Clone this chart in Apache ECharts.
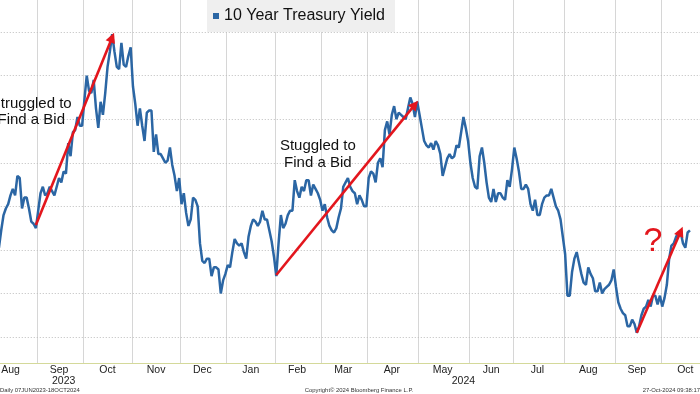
<!DOCTYPE html>
<html><head><meta charset="utf-8">
<script src="https://cdn.jsdelivr.net/npm/echarts@6/dist/echarts.min.js"></script>
<style>html,body{margin:0;padding:0;background:#fff}#c{width:700px;height:394px}</style>
</head><body><div id="c"></div>
<script>
// ---- data (10Y Treasury yield, %, one value per trading day) ----
const seriesName = '10 Year Treasury Yield';
const firstDate = '2023-08-09';
const lastDate = '2024-10-24';
const holidays = ['2023-09-04','2023-10-09','2023-11-23','2023-12-25','2024-01-01','2024-01-15',
  '2024-02-19','2024-03-29','2024-05-27','2024-06-19','2024-07-04','2024-09-02','2024-10-14'];

const y2023Aug = [4.01,4.09,4.16,4.19,4.21,4.25,4.28,4.25,4.34,4.33,4.19,4.24,4.24,4.19,4.13,4.12,4.10];
const y2023Sep = [4.18,4.26,4.29,4.25,4.26,4.29,4.27,4.25,4.29,4.33,4.31,4.36,4.35,4.49,4.43,4.54,4.55,4.61,4.57,4.57];
const y2023Oct = [4.69,4.80,4.73,4.72,4.78,4.65,4.56,4.68,4.62,4.72,4.84,4.91,4.99,4.91,4.84,4.83,4.95,4.85,4.84,4.89,4.93];
const y2023Nov = [4.75,4.67,4.57,4.65,4.57,4.50,4.63,4.64,4.64,4.45,4.53,4.44,4.44,4.42,4.40,4.41,4.47,4.39,4.34,4.27,4.33];
const y2023Dec = [4.21,4.26,4.17,4.11,4.14,4.24,4.23,4.20,4.03,3.95,3.94,3.96,3.96,3.88,3.92,3.92,3.91,3.80,3.86,3.89];
const y2024Jan = [3.93,3.92,3.99,4.05,4.03,4.02,4.03,3.99,3.96,4.06,4.11,4.14,4.13,4.11,4.13,4.18,4.14,4.14,4.09,4.04,3.97];
const y2024Feb = [3.88,4.03,4.16,4.10,4.12,4.16,4.18,4.18,4.32,4.27,4.24,4.29,4.27,4.32,4.32,4.25,4.30,4.28,4.26,4.23];
const y2024Mar = [4.18,4.21,4.15,4.11,4.09,4.08,4.10,4.15,4.19,4.29,4.31,4.33,4.29,4.27,4.26,4.21,4.25,4.23,4.20,4.20];
const y2024Apr = [4.33,4.36,4.35,4.31,4.40,4.42,4.38,4.55,4.59,4.53,4.62,4.66,4.60,4.63,4.62,4.61,4.60,4.65,4.70,4.67,4.61,4.68];
const y2024May = [4.62,4.56,4.50,4.48,4.47,4.49,4.46,4.50,4.48,4.44,4.34,4.38,4.42,4.44,4.42,4.43,4.48,4.47,4.54,4.61,4.56,4.50];
const y2024Jun = [4.40,4.33,4.29,4.28,4.43,4.47,4.40,4.31,4.24,4.22,4.28,4.22,4.26,4.26,4.24,4.23,4.32,4.29,4.37];
const y2024Jul = [4.47,4.42,4.36,4.28,4.28,4.30,4.28,4.21,4.18,4.23,4.16,4.16,4.21,4.24,4.25,4.25,4.28,4.24,4.20,4.18,4.14,4.06];
const y2024Aug = [3.98,3.79,3.79,3.90,3.96,3.99,3.94,3.89,3.85,3.84,3.92,3.89,3.87,3.81,3.81,3.85,3.80,3.82,3.83,3.84,3.86,3.91];
const y2024Sep = [3.83,3.76,3.73,3.71,3.70,3.65,3.65,3.68,3.66,3.62,3.65,3.70,3.73,3.74,3.77,3.74,3.79,3.79,3.75,3.79];
const y2024Oct = [3.74,3.78,3.84,3.96,4.02,4.03,4.06,4.08,4.08,4.03,4.01,4.08,4.09];

// ---- axis text ----
const monthNames = ['Jan','Feb','Mar','Apr','May','Jun','Jul','Aug','Sep','Oct','Nov','Dec'];
const monthLabelDates = ['2023-08-16','2023-09-15','2023-10-17','2023-11-15','2023-12-14','2024-01-17',
  '2024-02-14','2024-03-14','2024-04-15','2024-05-15','2024-06-14','2024-07-16','2024-08-15','2024-09-16','2024-10-16'];
const yearLabelDates = ['2023-09-19','2024-05-29'];
const yearLabelTexts = ['2023','2024'];
const yearBoundaryDate = '2024-01-02';
const gridValues = [3.6,3.8,4.0,4.2,4.4,4.6,4.8,5.0];

// ---- annotations (data coordinates) ----
const arrowStarts = [['2023-08-31',4.114],['2024-02-01',3.885],['2024-09-16',3.62]];
const arrowEnds   = [['2023-10-19',4.975],['2024-04-29',4.667],['2024-10-11',4.085]];
const noteDates  = ['2023-08-29','2024-02-28'];
const noteValues = [4.633,4.438];
const noteTexts  = ['Struggled to\nFind a Bid','Stuggled to\nFind a Bid'];
const questionDate = '2024-09-25';
const questionValue = 4.036;

// ---- build ----
function tradingDays(start, end, hol) {
  const out = [];
  const d = new Date(start + 'T00:00:00Z');
  const e = new Date(end + 'T00:00:00Z');
  while (d <= e) {
    const wd = d.getUTCDay();
    const s = d.toISOString().slice(0, 10);
    if (wd !== 0 && wd !== 6 && hol.indexOf(s) < 0) out.push(s);
    d.setUTCDate(d.getUTCDate() + 1);
  }
  return out;
}
const dates = tradingDays(firstDate, lastDate, holidays);
const values = [].concat(y2023Aug,y2023Sep,y2023Oct,y2023Nov,y2023Dec,y2024Jan,y2024Feb,y2024Mar,
  y2024Apr,y2024May,y2024Jun,y2024Jul,y2024Aug,y2024Sep,y2024Oct);
while (values.length < dates.length) values.push(null);

const monthStarts = new Set();
for (let k = 1; k < dates.length; k++) if (dates[k].slice(0,7) !== dates[k-1].slice(0,7)) monthStarts.add(k);
const labelIdx = new Set(monthLabelDates.map(d => dates.indexOf(d)));
const yearIdx = yearLabelDates.map(d => dates.indexOf(d));
const yearBoundaryIdx = dates.indexOf(yearBoundaryDate);

const FONT = "'Liberation Sans', Arial, sans-serif";
const BLUE = '#2b66a4';
const RED = '#e3161d';

const chart = echarts.init(document.getElementById('c'), null, {renderer: 'canvas'});
chart.setOption({
  animation: false,
  backgroundColor: '#ffffff',
  grid: {left: -2.24, right: -0.35, top: 0, bottom: 31, outerBoundsMode: 'none'},
  legend: {
    data: [seriesName], left: 207, top: 0, padding: [6, 10, 6, 6],
    backgroundColor: '#efefef', icon: 'rect', itemWidth: 6, itemHeight: 6,
    selectedMode: false,
    textStyle: {fontSize: 16, color: '#111', fontFamily: FONT, lineHeight: 20}
  },
  xAxis: [{
    type: 'category', data: dates, boundaryGap: true, position: 'bottom',
    axisLine: {show: true, lineStyle: {color: '#d4d99a', width: 1}},
    axisTick: {show: false},
    axisLabel: {
      interval: (i) => labelIdx.has(i),
      formatter: (v) => monthNames[parseInt(v.slice(5, 7), 10) - 1],
      fontSize: 10.5, color: '#222', fontFamily: FONT, margin: 2
    },
    splitLine: {show: true, interval: (i) => monthStarts.has(i), lineStyle: {color: '#d6d6d6', width: 1}}
  }, {
    type: 'category', data: dates, boundaryGap: true, position: 'bottom', offset: 0,
    axisLine: {show: false},
    axisTick: {show: true, interval: (i) => i === yearBoundaryIdx, length: 25, lineStyle: {color: '#ececd2', width: 1}},
    axisLabel: {
      interval: (i) => yearIdx.indexOf(i) >= 0,
      formatter: (v) => yearLabelTexts[yearLabelDates.indexOf(v)],
      fontSize: 10.5, color: '#222', fontFamily: FONT, margin: 13
    },
    splitLine: {show: false}
  }],
  yAxis: {type: 'value', min: 3.481, max: 5.147, show: false},
  series: [{
    type: 'line', name: seriesName, data: values, xAxisIndex: 0,
    symbol: 'none', showSymbol: false, z: 3,
    lineStyle: {color: BLUE, width: 2.5}, itemStyle: {color: BLUE},
    markLine: {
      silent: true, z: 1, symbol: ['none', 'none'], label: {show: false},
      lineStyle: {color: '#bdbdbd', width: 1, type: [1, 2]},
      emphasis: {disabled: true},
      data: gridValues.map(v => ({yAxis: v}))
    },
    markPoint: {
      silent: true, z: 6, symbol: 'circle', symbolSize: 1,
      itemStyle: {color: 'rgba(0,0,0,0)'},
      data: noteDates.map((d, i) => ({
        coord: [d, noteValues[i]],
        label: {show: true, position: 'inside', formatter: noteTexts[i], fontSize: 15,
          lineHeight: 16.5, color: '#111', fontFamily: FONT, align: 'center'}
      })).concat([{
        coord: [questionDate, questionValue],
        label: {show: true, position: 'inside', formatter: '?', fontSize: 34, color: RED, fontFamily: FONT}
      }])
    }
  }, {
    type: 'line', name: 'arrows', data: [], z: 5,
    markLine: {
      silent: true, z: 6, symbol: ['none', 'triangle'], symbolSize: 10,
      label: {show: false}, emphasis: {disabled: true},
      lineStyle: {color: RED, width: 2.6, type: 'solid'},
      itemStyle: {color: RED},
      data: arrowStarts.map((s, i) => [{coord: s}, {coord: arrowEnds[i]}])
    }
  }],
  graphic: [
    {type: 'text', left: 0, top: 387, style: {text: 'Daily 07JUN2023-18OCT2024', fontSize: 5.9, fill: '#333', fontFamily: FONT}},
    {type: 'text', x: 359, y: 390, style: {text: 'Copyright\u00A9 2024 Bloomberg Finance L.P.', fontSize: 5.9, fill: '#333', fontFamily: FONT, align: 'center', verticalAlign: 'middle'}},
    {type: 'text', right: 0, top: 387, style: {text: '27-Oct-2024 09:38:17', fontSize: 5.9, fill: '#333', fontFamily: FONT}}
  ]
});
</script>
</body></html>
